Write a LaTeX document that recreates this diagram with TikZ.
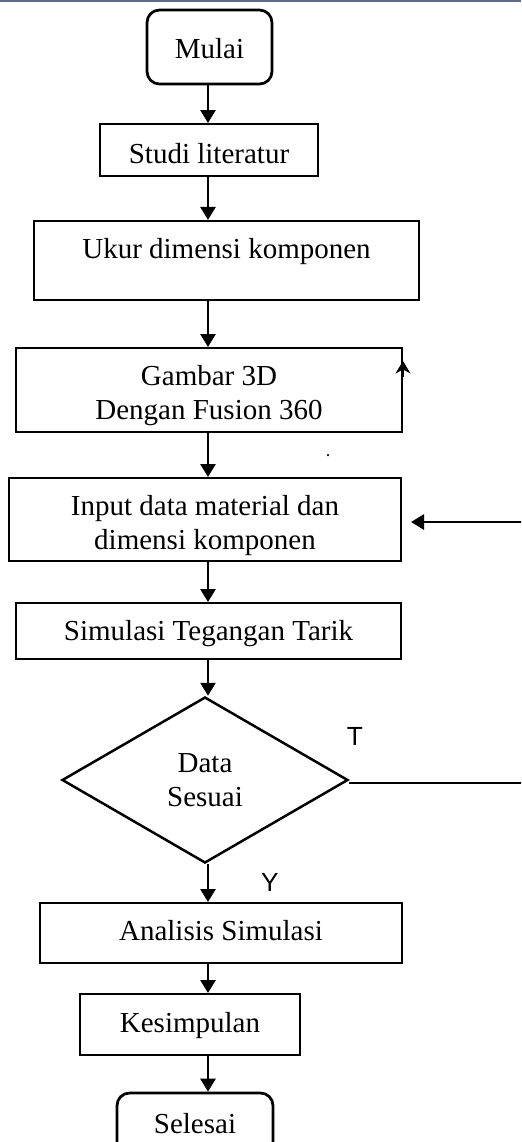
\documentclass[tikz,border=0pt]{standalone}
\usepackage{fontspec}
\setmainfont{Liberation Serif}
\newfontfamily\tandafont{Liberation Sans}
\usetikzlibrary{calc, arrows.meta, shapes.geometric}
\definecolor{bingkai}{RGB}{96,106,138}

\begin{document}
\begin{tikzpicture}[x=0.4pt, y=-0.4pt, line join=miter,
    font=\fontsize{11.6}{13.6}\selectfont,
    proses/.style={draw, rectangle, line width=0.8pt, inner ysep=0pt, align=center},
    terminal/.style={draw, rectangle, rounded corners=5pt, line width=1.1pt, inner ysep=0pt},
    keputusan/.style={draw, diamond, line width=1pt, inner sep=0pt, align=center,
        minimum width=114.4pt, minimum height=66.4pt},
    alur/.style={line width=1.1pt, -{Triangle[length=5.2pt, width=6pt]}},
    tanda/.style={font=\tandafont\fontsize{10.5}{12}\selectfont}]

    % page is 521 x 1142 px, y runs downwards
    \useasboundingbox (0,0) rectangle (521,1142);
    \clip (0,0) rectangle (521,1142);
    \fill[bingkai] (0,0) rectangle (521,1.6);

    % all vertical arrows run along x = 208
    \coordinate (poros) at (208,0);

    % Steps of the flow, top to bottom
    \node[terminal, minimum width=50pt, text height=19.2pt, text depth=10.4pt]
        (mulai) at (209.5,47) {Mulai};
    \node[proses, minimum width=87.2pt, text height=15.6pt, text depth=5.2pt]
        (studi) at (209,150) {Studi literatur};
    \node[proses, minimum width=154pt, text height=15.2pt, text depth=16.4pt]
        (ukur) at (226.5,260.4) {Ukur dimensi komponen};
    % two-line boxes: baseline sits on the last line
    \node[proses, minimum width=154.4pt, text height=28.5pt, text depth=5.1pt]
        (gambar) at (209,390) {Gambar 3D\\Dengan Fusion 360};
    \node[proses, minimum width=156.8pt, text height=28.4pt, text depth=4.8pt]
        (input) at (205,519.5) {Input data material dan\\dimensi komponen};
    \node[proses, minimum width=154pt, text height=15.1pt, text depth=7.3pt]
        (simulasi) at (208.5,631) {Simulasi Tegangan Tarik};
    \node[keputusan] (cek) at (205,780) {Data\\Sesuai};
    \node[proses, minimum width=144.8pt, text height=14.8pt, text depth=9.2pt]
        (analisis) at (221,933) {Analisis Simulasi};
    \node[proses, minimum width=88pt, text height=15.2pt, text depth=9.2pt]
        (kesimpulan) at (190,1024.5) {Kesimpulan};
    \node[terminal, minimum width=62.4pt, text height=16pt, text depth=13.6pt]
        (selesai) at (195,1130) {Selesai};

    % Branch labels of the decision
    \node[tanda] (tidak) at (355,736) {T};
    \node[tanda] (ya) at (270,882) {Y};

    % Main flow
    \draw[alur] (poros |- mulai.south) -- (poros |- studi.north);
    \draw[alur] (poros |- studi.south) -- (poros |- ukur.north);
    \draw[alur] (poros |- ukur.south) -- (poros |- gambar.north);
    \draw[alur] (poros |- gambar.south) -- (poros |- input.north);
    \draw[alur] (poros |- input.south) -- (poros |- simulasi.north);
    \draw[alur] (poros |- simulasi.south) -- (poros |- cek.north);
    \draw[alur] (poros |- cek.south) -- (poros |- analisis.north);
    \draw[alur] (poros |- analisis.south) -- (poros |- kesimpulan.north);
    \draw[alur] (poros |- kesimpulan.south) -- (poros |- selesai.north);

    % "T" goes back to the input step, round the right side
    \coordinate (balik) at (560,783);
    \draw[alur] ($(cek.east)+(0,3)$) -- (balik) |- ($(input.east)+(9,2.5)$);

    % loose tip on the right edge of the drawing step, and a stray dot
    \draw[line width=0.8pt, -{Stealth[length=5pt, width=6pt]}]
        ($(gambar.north east)+(0,30)$) -- ($(gambar.north east)+(0,14)$);
    \fill (328,455) circle (0.5pt);

\end{tikzpicture}
\end{document}
